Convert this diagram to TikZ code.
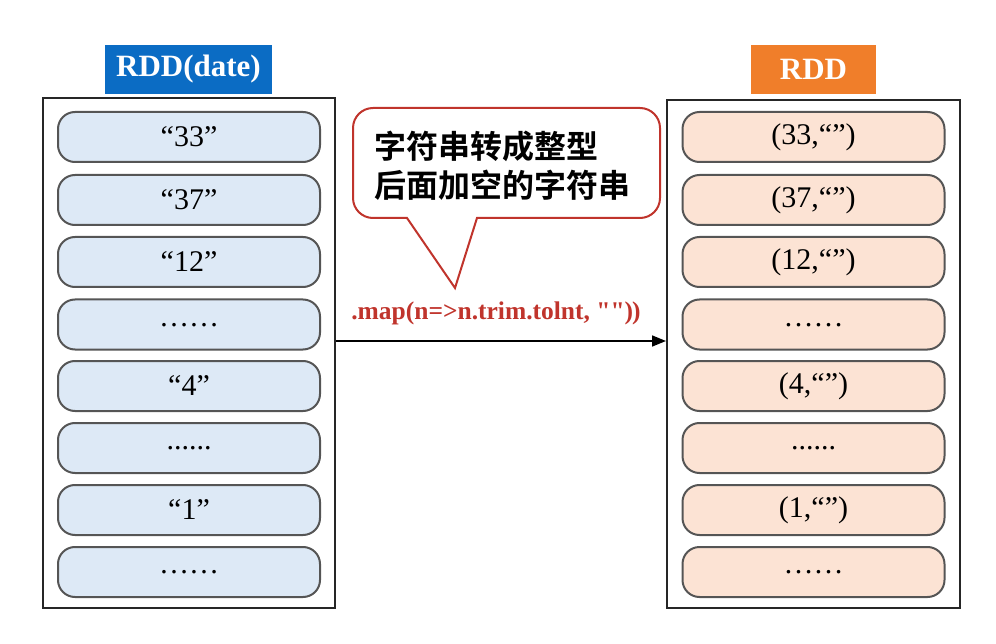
\documentclass[tikz,border=0pt]{standalone}
\usepackage{fontspec}
\setmainfont{Liberation Serif}
\newfontfamily\cjk{Noto Sans CJK SC}[BoldFont={* Bold}]
\usetikzlibrary{arrows.meta}
\definecolor{lblue}{HTML}{DDE9F6}
\definecolor{lpeach}{HTML}{FCE3D4}
\definecolor{hblue}{HTML}{0B6CC4}
\definecolor{horange}{HTML}{F07E2A}
\definecolor{cred}{HTML}{C0342C}
\definecolor{pillline}{HTML}{555555}
\tikzset{
  outerbox/.style={draw=black!85, line width=2pt},
  pill/.style={draw=pillline, line width=2pt, rounded corners=17pt, minimum width=262pt, minimum height=50pt, inner sep=0pt, font=\fontsize{30}{32}\selectfont},
  bluepill/.style={pill, fill=lblue},
  peachpill/.style={pill, fill=lpeach},
  header/.style={text=white, font=\fontsize{31}{33}\selectfont\bfseries, inner sep=0pt, minimum height=49pt},
}
\begin{document}
\begin{tikzpicture}[x=1pt,y=-1pt]
\useasboundingbox (0,0) rectangle (996,644);
% outer boxes
\node[outerbox, minimum width=292pt, minimum height=510pt, inner sep=0pt] (leftbox) at (189,353) {};
\node[outerbox, minimum width=293pt, minimum height=508pt, inner sep=0pt] (rightbox) at (813.5,354) {};
% headers
\node[header, fill=hblue, minimum width=167pt] (lhead) at (188.5,69.5) {RDD(date)};
\node[header, fill=horange, minimum width=125pt] (rhead) at (813.5,69.5) {RDD};
% left pills
\node[bluepill] (l1) at (189,137) {\raisebox{-2pt}{“33”}};
\node[bluepill] (l2) at (189,200) {\raisebox{-2pt}{“37”}};
\node[bluepill] (l3) at (189,262) {\raisebox{-2pt}{“12”}};
\node[bluepill] (l4) at (189,324.5) {\raisebox{-4pt}{……}};
\node[bluepill] (l5) at (189,386) {\raisebox{-2pt}{“4”}};
\node[bluepill] (l6) at (189,448) {\raisebox{-4pt}{......}};
\node[bluepill] (l7) at (189,510) {\raisebox{-2pt}{“1”}};
\node[bluepill] (l8) at (189,572) {\raisebox{-4pt}{……}};
% right pills
\node[peachpill] (r1) at (813.5,137) {\raisebox{-2pt}{(33,“”)}};
\node[peachpill] (r2) at (813.5,200) {\raisebox{-2pt}{(37,“”)}};
\node[peachpill] (r3) at (813.5,262) {\raisebox{-2pt}{(12,“”)}};
\node[peachpill] (r4) at (813.5,324.5) {\raisebox{-4pt}{……}};
\node[peachpill] (r5) at (813.5,386) {\raisebox{-2pt}{(4,“”)}};
\node[peachpill] (r6) at (813.5,448) {\raisebox{-4pt}{......}};
\node[peachpill] (r7) at (813.5,510) {\raisebox{-2pt}{(1,“”)}};
\node[peachpill] (r8) at (813.5,572) {\raisebox{-4pt}{……}};
% arrow
\coordinate (arr) at (500,341);
\draw[line width=1.6pt, -{Triangle[length=14pt,width=11pt]}] (leftbox.east |- arr) -- (rightbox.west |- arr);
% callout
\draw[cred, line width=2pt, fill=white] (560,108) [rounded corners=20pt] -- (660,108) -- (660,218) [sharp corners] -- (477,218) -- (455,288) -- (407,218) [rounded corners=20pt] -- (353,218) -- (353,108) -- cycle;
\node[font=\cjk\bfseries\fontsize{32}{39}\selectfont, align=left, anchor=north west, inner sep=0pt] (ctext) at (374,131) {字符串转成整型\\后面加空的字符串};
\node[text=cred, font=\fontsize{25.5}{27}\selectfont\bfseries\addfontfeatures{Ligatures=TeXOff}, inner sep=0pt] (maptext) at (496,313) {.map(n=>n.trim.tolnt, "")\kern-1pt)};
\end{tikzpicture}
\end{document}
